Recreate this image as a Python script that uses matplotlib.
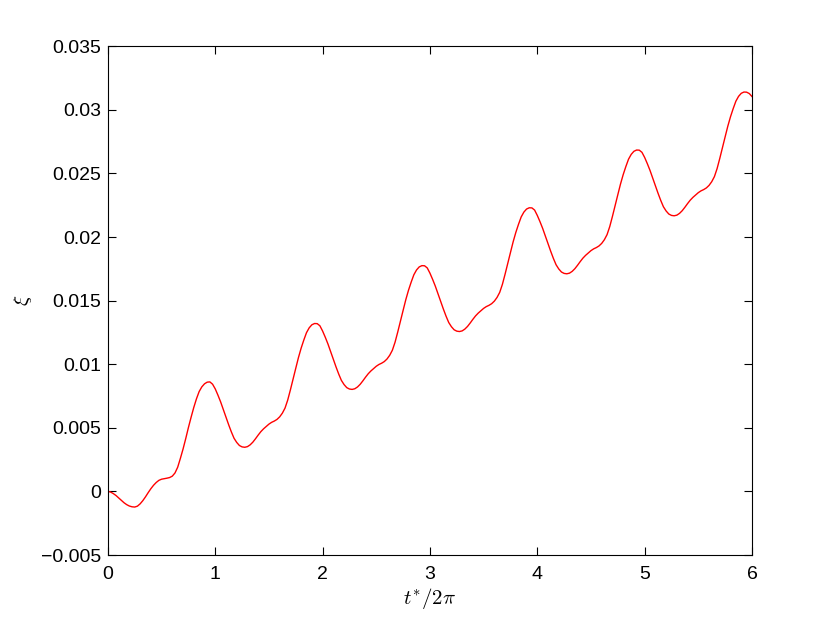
"""Displacement xi versus t*/2pi, MATLAB-style figure."""

import numpy as np
import matplotlib.pyplot as plt

# t*/2pi sample points (step 0.025)
t = np.round(np.arange(0, 241) * 0.025, 3)

# xi values, one list per period
xi_0 = [0.0, -0.00005, -0.00017, -0.00032, -0.00051, -0.00071, -0.00089, -0.00104,
        -0.00115, -0.00121, -0.00123, -0.00116, -0.00098, -0.00073, -0.00043, -0.0001,
        0.00021, 0.00048, 0.0007, 0.00087, 0.00096, 0.001, 0.00104, 0.00109,
        0.0012, 0.00145, 0.0019, 0.00259, 0.00333, 0.00415, 0.00502, 0.00583,
        0.0066, 0.00728, 0.00785, 0.00822, 0.00846, 0.00859, 0.00861, 0.00843]
xi_1 = [0.00806, 0.00757, 0.00704, 0.00645, 0.00584, 0.00524, 0.00468, 0.00418,
        0.00385, 0.00361, 0.00350, 0.00347, 0.00352, 0.00366, 0.00387, 0.00414,
        0.00443, 0.00470, 0.00492, 0.00510, 0.00529, 0.00543, 0.00553, 0.00566,
        0.00586, 0.00615, 0.00655, 0.00718, 0.00798, 0.00884, 0.00968, 0.01052,
        0.01126, 0.01190, 0.01248, 0.01286, 0.01310, 0.01320, 0.01319, 0.01302]
xi_2 = [0.01261, 0.01212, 0.01159, 0.01100, 0.01039, 0.00979, 0.00923, 0.00873,
        0.00840, 0.00816, 0.00805, 0.00802, 0.00807, 0.00821, 0.00842, 0.00869,
        0.00898, 0.00925, 0.00947, 0.00965, 0.00984, 0.00998, 0.01008, 0.01021,
        0.01041, 0.01070, 0.01110, 0.01173, 0.01253, 0.01339, 0.01423, 0.01507,
        0.01581, 0.01645, 0.01703, 0.01741, 0.01765, 0.01775, 0.01774, 0.01757]
xi_3 = [0.01716, 0.01667, 0.01614, 0.01555, 0.01494, 0.01434, 0.01378, 0.01328,
        0.01295, 0.01271, 0.01260, 0.01257, 0.01262, 0.01276, 0.01297, 0.01324,
        0.01353, 0.01380, 0.01402, 0.01420, 0.01439, 0.01453, 0.01463, 0.01476,
        0.01496, 0.01525, 0.01565, 0.01628, 0.01708, 0.01794, 0.01878, 0.01962,
        0.02036, 0.02100, 0.02158, 0.02196, 0.02220, 0.02230, 0.02229, 0.02212]
xi_4 = [0.02170, 0.02121, 0.02068, 0.02009, 0.01948, 0.01888, 0.01832, 0.01782,
        0.01749, 0.01725, 0.01714, 0.01711, 0.01716, 0.01730, 0.01751, 0.01778,
        0.01807, 0.01834, 0.01856, 0.01874, 0.01893, 0.01907, 0.01917, 0.01930,
        0.01950, 0.01979, 0.02019, 0.02082, 0.02162, 0.02248, 0.02332, 0.02416,
        0.02490, 0.02554, 0.02612, 0.02650, 0.02674, 0.02684, 0.02683, 0.02666]
xi_5 = [0.02626, 0.02577, 0.02524, 0.02465, 0.02404, 0.02344, 0.02288, 0.02238,
        0.02205, 0.02181, 0.02170, 0.02167, 0.02172, 0.02186, 0.02207, 0.02234,
        0.02263, 0.02290, 0.02312, 0.02330, 0.02349, 0.02363, 0.02373, 0.02386,
        0.02406, 0.02435, 0.02475, 0.02538, 0.02618, 0.02704, 0.02788, 0.02872,
        0.02946, 0.03010, 0.03068, 0.03106, 0.03130, 0.03140, 0.03139, 0.03128,
        0.03105]

x_ticks = [0, 1, 2, 3, 4, 5, 6]
y_ticks = [-0.005, 0, 0.005, 0.01, 0.015, 0.02, 0.025, 0.03, 0.035]
y_labels = ['\u22120.005', '0', '0.005', '0.01', '0.015', '0.02', '0.025',
            '0.03', '0.035']


def main():
    plt.rcParams['font.family'] = ['Liberation Sans', 'DejaVu Sans']
    plt.rcParams['mathtext.fontset'] = 'cm'

    xi = np.array(xi_0 + xi_1 + xi_2 + xi_3 + xi_4 + xi_5)

    fig = plt.figure(figsize=(8.3, 6.25), dpi=100)
    ax = fig.add_axes([0.130, 0.112, 0.776, 0.814])
    ax.plot(t, xi, color='red', lw=1.0)

    ax.set_xlim(0, 6)
    ax.set_ylim(-0.005, 0.035)
    ax.set_xticks(x_ticks)
    ax.set_xticklabels([str(v) for v in x_ticks])
    ax.set_yticks(y_ticks)
    ax.set_yticklabels(y_labels)
    ax.tick_params(direction='in', length=6, width=0.8, top=True, right=True,
                   labelsize=14)
    ax.tick_params(axis='x', pad=8)
    ax.tick_params(axis='y', pad=5)
    for s in ax.spines.values():
        s.set_linewidth(0.8)

    ax.set_xlabel(r'$t^{*}/2\pi$', fontsize=15, labelpad=2)
    ax.set_ylabel(r'$\xi$', fontsize=15, labelpad=5)

    fig.savefig('out.png', dpi=100)


if __name__ == '__main__':
    main()
